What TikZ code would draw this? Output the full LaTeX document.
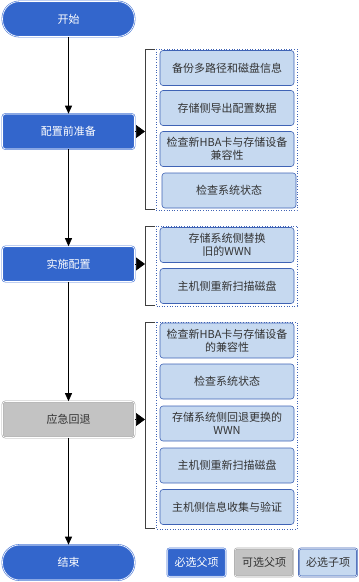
\documentclass[tikz,border=0pt]{standalone}
\usepackage{fontspec}
\newfontfamily\cjk{Noto Sans CJK SC}
\usetikzlibrary{arrows.meta}
\definecolor{mainblue}{HTML}{3366CC}
\definecolor{mainedge}{HTML}{4A78D6}
\definecolor{subfill}{HTML}{C6D9F0}
\definecolor{subedge}{HTML}{3F63B5}
\definecolor{grayfill}{HTML}{C3C3C3}
\definecolor{grayedge}{HTML}{A8A8A8}
\definecolor{textdark}{HTML}{333333}
\tikzset{
  base/.style={font=\cjk\fontsize{11}{13}\selectfont, align=center, inner sep=1pt},
  mainbox/.style={base, rectangle, rounded corners=3pt, fill=mainblue, draw=mainedge, double=white, double distance=0.6pt, line width=0.6pt, text=white, minimum width=132pt, minimum height=35pt},
  graybox/.style={base, rectangle, rounded corners=3pt, fill=grayfill, draw=grayedge, double=white, double distance=0.6pt, line width=0.6pt, text=textdark, minimum width=132pt, minimum height=36pt},
  term/.style={mainbox, rounded corners=17pt},
  subbox/.style={base, rectangle, rounded corners=3pt, fill=subfill, draw=subedge, line width=0.6pt, text=textdark, minimum width=134pt, minimum height=35pt, text width=132pt},
  frame/.style={draw=subedge, dotted, line width=0.6pt},
  bracket/.style={draw=black!75, line width=0.7pt},
  flow/.style={draw=black, line width=0.7pt, -{Triangle[length=8pt,width=7pt]}},
  pointer/.style={draw=black, line width=0.7pt, -{Triangle[length=9pt,width=13pt]}},
  legblue/.style={base, rectangle, rounded corners=2pt, fill=mainblue, draw=mainedge, double=white, double distance=0.5pt, line width=0.6pt, text=white, minimum width=58pt, minimum height=28pt},
  leggray/.style={legblue, fill=grayfill, draw=grayedge, text=textdark},
  legsub/.style={legblue, fill=subfill, draw=subedge, text=textdark}
}
\begin{document}
\begin{tikzpicture}[x=1pt,y=-1pt]
\useasboundingbox (0,0) rectangle (359,582);
% main column
\node[term] (start) at (68.5,19) {开始};
\node[mainbox] (prep) at (68.5,131.5) {配置前准备};
\node[mainbox] (impl) at (68.5,264) {实施配置};
\node[graybox] (back) at (68.5,419.5) {应急回退};
\node[term] (finish) at (68.5,562.5) {结束};
\draw[flow] (start) -- (prep);
\draw[flow] (prep) -- (impl);
\draw[flow] (impl) -- (back);
\draw[flow] (back) -- (finish);
% group 1
\draw[frame] (156,49) rectangle (297,210);
\node[subbox] (a1) at (227,68) {备份多路径和磁盘信息};
\node[subbox] (a2) at (227,108) {存储侧导出配置数据};
\node[subbox] (a3) at (227,149) {检查新HBA卡与存储设备\\兼容性};
\node[subbox] (a4) at (229,190.5) {检查系统状态};
\draw[bracket] (155,49) -- (145,49) -- (145,209) -- (155,209);
\coordinate (p1) at (145,131.5);
\draw[pointer] (prep.east) -- (p1);
% group 2
\draw[frame] (156,226) rectangle (297,306);
\node[subbox] (b1) at (227,245) {存储系统侧替换\\旧的WWN};
\node[subbox] (b2) at (227,286) {主机侧重新扫描磁盘};
\draw[bracket] (155,226) -- (145,226) -- (145,305) -- (155,305);
\coordinate (p2) at (145,264);
\draw[pointer] (impl.east) -- (p2);
% group 3
\draw[frame] (156,322) rectangle (297,529);
\node[subbox] (c1) at (227,340.5) {检查新HBA卡与存储设备\\的兼容性};
\node[subbox] (c2) at (227,381.5) {检查系统状态};
\node[subbox] (c3) at (227,423.5) {存储系统侧回退更换的\\WWN};
\node[subbox] (c4) at (227,465.5) {主机侧重新扫描磁盘};
\node[subbox] (c5) at (227,507) {主机侧信息收集与验证};
\draw[bracket] (155,322) -- (145,322) -- (145,528) -- (155,528);
\coordinate (p3) at (145,419.5);
\draw[pointer] (back.east) -- (p3);
% legend
\node[legblue] (l1) at (196.5,562.5) {必选父项};
\node[leggray] (l2) at (264,562.5) {可选父项};
\node[legsub] (l3) at (328,562.5) {必选子项};
\end{tikzpicture}
\end{document}
